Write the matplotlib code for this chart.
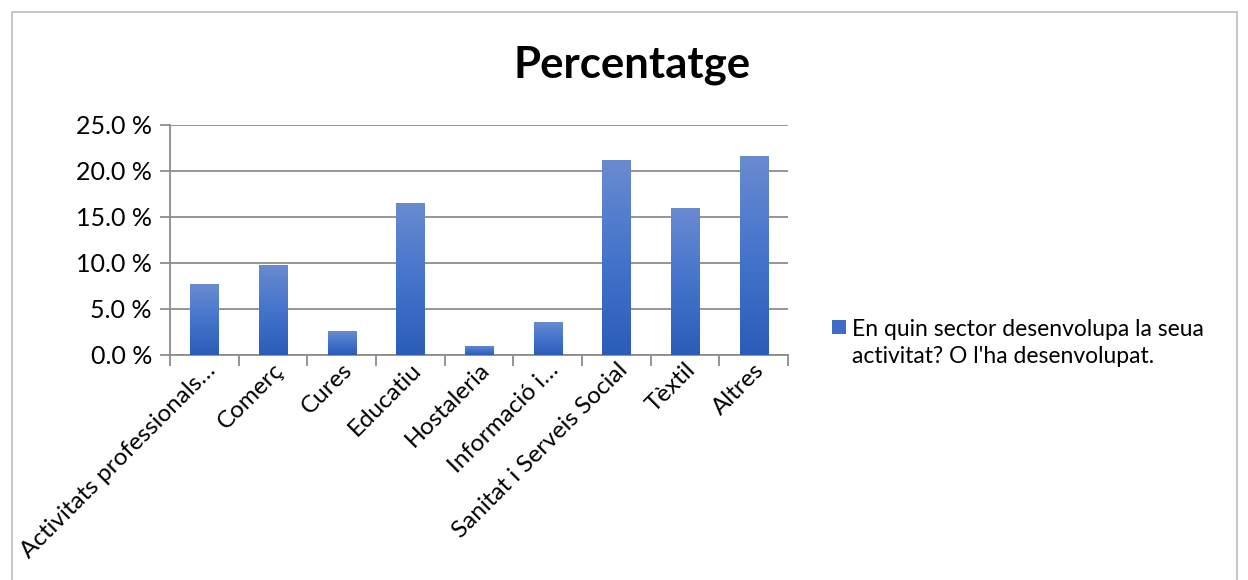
import numpy as np
import matplotlib
matplotlib.use("Agg")
import matplotlib.pyplot as plt
from matplotlib.colors import LinearSegmentedColormap
from matplotlib.patches import Rectangle
from matplotlib.ticker import FuncFormatter, MultipleLocator

sectors = ["Activitats professionals…", "Comerç", "Cures", "Educatiu", "Hostaleria",
           "Informació i…", "Sanitat i Serveis Social", "Tèxtil", "Altres"]
percent = [7.7, 9.8, 2.6, 16.5, 1.0, 3.6, 21.2, 16.0, 21.6]
series_name = "En quin sector desenvolupa la seua\nactivitat? O l'ha desenvolupat."

plt.rcParams["font.family"] = ["Lato", "DejaVu Sans"]

W, H = 1248, 580
fig = plt.figure(figsize=(W / 100, H / 100), dpi=100)
fig.patches.append(Rectangle((12 / W, -0.1), 1225 / W, 1 - 12 / H + 0.1,
                             transform=fig.transFigure, fill=False,
                             edgecolor="#bfbfbf", linewidth=1.2))
ax = fig.add_axes([170 / W, 1 - 355 / H, 618 / W, 230 / H])

x = np.arange(len(sectors))
bars = ax.bar(x, percent, width=0.41, color="#4472c4", zorder=3)

# vertical gradient inside each bar, lighter at the top
grad = LinearSegmentedColormap.from_list("bluegrad", ["#2c5cb8", "#4574cc", "#6a8bd0"])
g = np.linspace(0, 1, 256).reshape(-1, 1)
for b in bars:
    x0 = b.get_x()
    im = ax.imshow(g, cmap=grad, origin="lower", aspect="auto",
                   extent=[x0, x0 + b.get_width(), 0, b.get_height()], zorder=4)
    im.set_clip_path(b)

ax.set_xlim(-0.5, len(sectors) - 0.5)
ax.set_ylim(0, 25)
ax.yaxis.set_major_locator(MultipleLocator(5))
ax.yaxis.set_major_formatter(FuncFormatter(lambda v, p: f"{v:.1f} %"))
ax.grid(axis="y", color="#8c8c8c", linewidth=1.3, zorder=0)

ax.set_xticks(x)
ax.set_xticklabels(sectors, rotation=45, ha="right", rotation_mode="anchor", fontsize=17.5)
ax.set_xticks(np.arange(-0.5, len(sectors)), minor=True)
ax.tick_params(axis="x", which="major", length=0, pad=3)
ax.tick_params(axis="x", which="minor", length=8, width=1.3, color="#8c8c8c", direction="out")
ax.tick_params(axis="y", length=7, width=1.3, color="#8c8c8c", labelsize=18, pad=6)

for side in ["top", "right"]:
    ax.spines[side].set_visible(False)
for side in ["left", "bottom"]:
    ax.spines[side].set_color("#8c8c8c")
    ax.spines[side].set_linewidth(1.3)

fig.text(632 / W, 1 - 65 / H, "Percentatge", fontsize=31.5, fontweight="bold",
         ha="center", va="center")

# legend: swatch beside the first line of the series name
fig.patches.append(Rectangle((832 / W, 1 - 334 / H), 14 / W, 14 / H,
                             transform=fig.transFigure, facecolor="#3f6cc6",
                             edgecolor="none"))
fig.text(852 / W, 1 - 343 / H, series_name, fontsize=16.5, ha="left", va="center",
         linespacing=1.3)

fig.savefig("out.png", dpi=100)
